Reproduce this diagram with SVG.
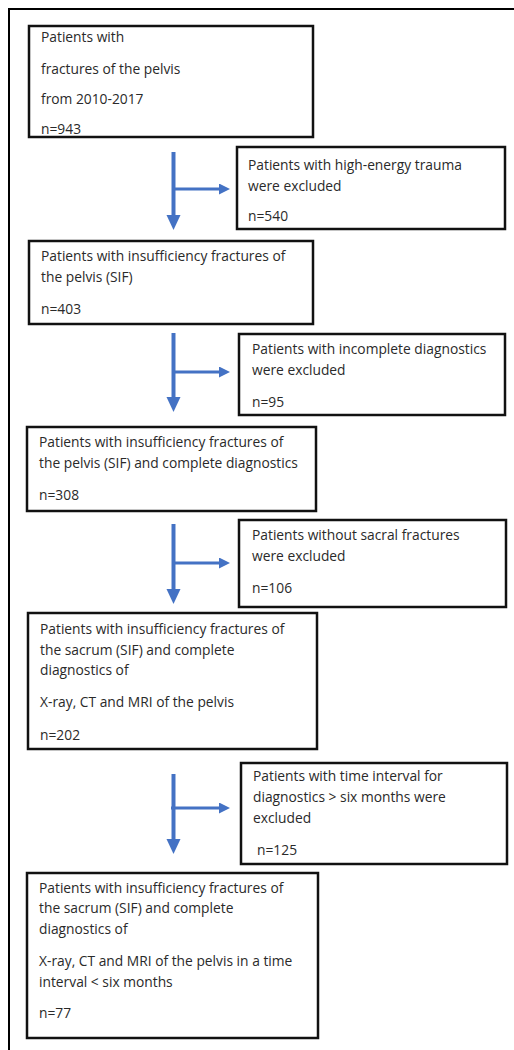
<svg xmlns="http://www.w3.org/2000/svg" width="514" height="1050" viewBox="0 0 514 1050">
<style>
.box{fill:#fff;stroke:#111;stroke-width:2.5}
.t{font-family:"Open Sans","Liberation Sans",Arial,sans-serif;font-size:13.8px;fill:#2a2a2a}
.v{stroke:#4472C4;stroke-width:4;fill:none}
.h{stroke:#4472C4;stroke-width:3;fill:none}
.frame{stroke:#000;stroke-width:2;fill:none}
</style>
<defs>
<marker id="av" markerUnits="userSpaceOnUse" markerWidth="16" markerHeight="16" refX="2" refY="7" orient="auto">
<path d="M0,0 L15,7 L0,14 z" fill="#4472C4"/>
</marker>
<marker id="ah" markerUnits="userSpaceOnUse" markerWidth="13" markerHeight="12" refX="2" refY="5.5" orient="auto">
<path d="M0,0 L11,5.5 L0,11 z" fill="#4472C4"/>
</marker>
</defs>
<path class="frame" d="M514,9 H9 V1050"/>
<g id="n1">
<rect class="box" x="29" y="26" width="284" height="111"/>
<text class="t" x="41" y="42">Patients with</text>
<text class="t" x="41" y="74">fractures of the pelvis</text>
<text class="t" x="41" y="104">from 2010-2017</text>
<text class="t" x="41" y="134">n=943</text>
</g>
<g id="n2">
<rect class="box" x="237" y="147" width="268" height="82"/>
<text class="t" x="248" y="170">Patients with high-energy trauma</text>
<text class="t" x="248" y="191">were excluded</text>
<text class="t" x="248" y="221">n=540</text>
</g>
<g id="n3">
<rect class="box" x="29" y="241" width="284" height="83"/>
<text class="t" x="41" y="261">Patients with insufficiency fractures of</text>
<text class="t" x="41" y="282">the pelvis (SIF)</text>
<text class="t" x="41" y="314">n=403</text>
</g>
<g id="n4">
<rect class="box" x="239" y="334" width="266" height="81"/>
<text class="t" x="252" y="354">Patients with incomplete diagnostics</text>
<text class="t" x="252" y="375">were excluded</text>
<text class="t" x="252" y="407">n=95</text>
</g>
<g id="n5">
<rect class="box" x="27" y="427" width="289" height="84"/>
<text class="t" x="39" y="447">Patients with insufficiency fractures of</text>
<text class="t" x="39" y="468">the pelvis (SIF) and complete diagnostics</text>
<text class="t" x="39" y="500">n=308</text>
</g>
<g id="n6">
<rect class="box" x="239" y="520" width="267" height="87"/>
<text class="t" x="252" y="540">Patients without sacral fractures</text>
<text class="t" x="252" y="561">were excluded</text>
<text class="t" x="252" y="593">n=106</text>
</g>
<g id="n7">
<rect class="box" x="28" y="613" width="289" height="136"/>
<text class="t" x="40" y="634">Patients with insufficiency fractures of</text>
<text class="t" x="40" y="655">the sacrum (SIF) and complete</text>
<text class="t" x="40" y="675">diagnostics of</text>
<text class="t" x="40" y="707">X-ray, CT and MRI of the pelvis</text>
<text class="t" x="40" y="740">n=202</text>
</g>
<g id="n8">
<rect class="box" x="241" y="763" width="266" height="101"/>
<text class="t" x="253" y="781">Patients with time interval for</text>
<text class="t" x="253" y="802">diagnostics &gt; six months were</text>
<text class="t" x="253" y="823">excluded</text>
<text class="t" x="257" y="855">n=125</text>
</g>
<g id="n9">
<rect class="box" x="27" y="873" width="291" height="165"/>
<text class="t" x="39" y="893">Patients with insufficiency fractures of</text>
<text class="t" x="39" y="913">the sacrum (SIF) and complete</text>
<text class="t" x="39" y="934">diagnostics of</text>
<text class="t" x="39" y="966">X-ray, CT and MRI of the pelvis in a time</text>
<text class="t" x="39" y="987">interval &lt; six months</text>
<text class="t" x="39" y="1018">n=77</text>
</g>
<g id="connectors">
<path class="v" d="M173.5,152 V217" marker-end="url(#av)"/>
<path class="h" d="M173,189 H221" marker-end="url(#ah)"/>
<path class="v" d="M173.5,333 V399" marker-end="url(#av)"/>
<path class="h" d="M173,372 H221" marker-end="url(#ah)"/>
<path class="v" d="M173.5,524 V591" marker-end="url(#av)"/>
<path class="h" d="M173,563 H221" marker-end="url(#ah)"/>
<path class="v" d="M173.5,774 V841" marker-end="url(#av)"/>
<path class="h" d="M171,808 H221" marker-end="url(#ah)"/>
</g>
</svg>
